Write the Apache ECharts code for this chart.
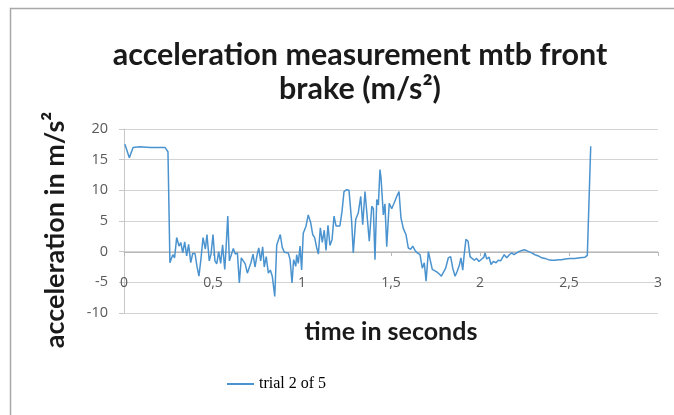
<!DOCTYPE html>
<html>
<head>
<meta charset="utf-8">
<script src="https://cdn.jsdelivr.net/npm/echarts@6/dist/echarts.min.js"></script>
<style>
  html, body { margin: 0; padding: 0; background: #fff; }
  #chart { width: 674px; height: 415px; }
</style>
</head>
<body>
<div id="chart"></div>
<script>
// time in seconds
var time = [
  0.005, 0.014, 0.030, 0.051, 0.090, 0.146, 0.202, 0.230, 0.247, 0.258,
  0.274, 0.284, 0.296, 0.309, 0.319, 0.330, 0.341, 0.352, 0.363, 0.375,
  0.386, 0.399, 0.410, 0.421, 0.433, 0.444, 0.457, 0.466, 0.479, 0.489,
  0.500, 0.511, 0.521, 0.532, 0.543, 0.554, 0.566, 0.573, 0.583, 0.592,
  0.603, 0.614, 0.625, 0.637, 0.648, 0.659, 0.670, 0.681, 0.693, 0.702,
  0.713, 0.725, 0.736, 0.746, 0.757, 0.768, 0.779, 0.788, 0.799, 0.811,
  0.822, 0.833, 0.847, 0.858, 0.869, 0.878, 0.889, 0.901, 0.912, 0.923,
  0.933, 0.944, 0.953, 0.965, 0.970, 0.979, 0.989, 0.998, 1.007, 1.022,
  1.035, 1.049, 1.060, 1.071, 1.083, 1.092, 1.103, 1.114, 1.125, 1.135,
  1.146, 1.157, 1.169, 1.180, 1.191, 1.202, 1.213, 1.225, 1.236, 1.251,
  1.264, 1.279, 1.288, 1.302, 1.316, 1.330, 1.341, 1.354, 1.365, 1.378,
  1.392, 1.401, 1.410, 1.420, 1.429, 1.438, 1.444, 1.457, 1.466, 1.476,
  1.490, 1.504, 1.517, 1.532, 1.545, 1.556, 1.569, 1.584, 1.597, 1.611,
  1.622, 1.635, 1.648, 1.663, 1.676, 1.687, 1.697, 1.710, 1.719, 1.732,
  1.743, 1.757, 1.770, 1.783, 1.794, 1.807, 1.822, 1.835, 1.847, 1.860,
  1.872, 1.884, 1.893, 1.903, 1.910, 1.921, 1.933, 1.944, 1.955, 1.968,
  1.981, 1.994, 2.010, 2.022, 2.028, 2.038, 2.051, 2.062, 2.075, 2.090,
  2.103, 2.116, 2.127, 2.136, 2.150, 2.165, 2.178, 2.191, 2.206, 2.221,
  2.234, 2.253, 2.271, 2.290, 2.309, 2.328, 2.347, 2.365, 2.384, 2.403,
  2.421, 2.440, 2.459, 2.478, 2.506, 2.534, 2.562, 2.590, 2.603, 2.614,
  2.622
];

// acceleration in m/s²
var accel = [
  17.5, 17.4, 15.3, 17.0, 17.1, 17.0, 17.0, 17.0, 16.3, -1.8,
  -0.5, -1.0, 2.3, 0.9, 1.5, -0.2, 1.6, -0.7, 1.2, -1.8,
  -0.3, -0.3, -2.4, -4.0, -1.0, 2.3, 0.4, 2.8, -1.5, -0.4,
  2.8, -1.5, -2.0, 0.0, -1.9, 1.1, -2.9, 0.4, 5.8, -1.5,
  -1.2, 0.5, -0.4, -0.2, -5.1, -1.0, -1.3, -2.0, -3.5, -3.2,
  -1.8, -0.4, -2.5, -0.8, 0.6, -1.5, 0.8, -2.5, -0.8, -3.5,
  -3.0, -4.0, -7.3, 1.1, 1.3, 2.8, 0.7, -0.1, -0.4, -0.2,
  -1.3, -5.1, -1.3, -2.4, -0.5, -1.9, 0.9, -3.0, 3.0, 4.1,
  6.0, 4.7, 2.8, 2.3, 0.6, -0.4, 3.9, 1.5, 3.5, 0.2,
  4.3, 1.0, 2.0, 5.8, 4.2, 4.2, 4.2, 6.6, 9.8, 10.1,
  10.0, 4.9, -0.2, 5.3, 6.3, 9.0, 4.4, 9.8, 9.6, 1.7,
  7.4, 7.0, -1.3, 8.5, 7.6, 13.4, 12.0, 6.0, 7.8, 0.8,
  7.9, 7.0, 7.9, 9.0, 9.8, 5.5, 3.8, 2.8, 0.6, 0.4,
  0.9, 0.2, -0.2, -0.5, -2.7, -1.8, -4.8, 0.0, -0.3, -2.9,
  -2.6, -3.3, -3.6, -4.0, -4.3, -2.7, -1.0, -0.8, -2.7, -4.0,
  -3.2, -2.2, -1.0, -3.0, -0.8, 2.0, 1.7, -0.8, -1.1, -1.4,
  -1.1, -1.6, -1.2, -0.9, -0.2, -1.2, -0.9, -2.1, -1.6, -1.8,
  -1.4, -1.5, -1.2, -0.5, -1.0, -0.5, -0.2, -0.5, -0.2, 0.05,
  0.2, 0.3, 0.05, -0.2, -0.5, -0.7, -1.0, -1.1, -1.3, -1.4,
  -1.4, -1.3, -1.3, -1.2, -1.1, -1.1, -1.0, -0.9, -0.6, -0.9,
  17.2
];

var seriesName = 'trial 2 of 5';

var points = time.map(function (t, i) { return [t, accel[i]]; });

var chart = echarts.init(document.getElementById('chart'));
var option = {
  animation: false,
  backgroundColor: '#fff',
  title: {
    text: 'acceleration measurement mtb front\nbrake (m/s²)',
    left: 355,
    textAlign: 'center',
    top: 33,
    textStyle: {
      fontFamily: 'Lato',
      fontWeight: 'bold',
      fontSize: 30.5,
      lineHeight: 34,
      color: '#1a1a1a'
    }
  },
  grid: {
    left: 124,
    right: 16,
    top: 129,
    bottom: 102,
    containLabel: false
  },
  legend: {
    data: [seriesName],
    left: 222,
    top: 371,
    icon: 'rect',
    itemWidth: 27,
    itemHeight: 2,
    itemGap: 10,
    textStyle: {
      fontFamily: 'Liberation Serif',
      fontSize: 16,
      color: '#000'
    }
  },
  xAxis: {
    type: 'value',
    min: 0,
    max: 3,
    interval: 0.5,
    // the axis crosses the value axis at 0 (61 px above the plot bottom)
    offset: -61,
    name: 'time in seconds',
    nameLocation: 'middle',
    nameGap: 67,
    nameTextStyle: {
      fontFamily: 'Lato',
      fontWeight: 'bold',
      fontSize: 25,
      color: '#1a1a1a'
    },
    axisLine: { onZero: false, lineStyle: { color: '#b8b8b8', width: 1 } },
    axisTick: { show: true, length: 4, lineStyle: { color: '#b8b8b8' } },
    axisLabel: {
      margin: 24,
      fontFamily: 'Open Sans',
      fontSize: 14,
      color: '#595959',
      formatter: function (v) { return String(v).replace('.', ','); }
    },
    splitLine: { show: false }
  },
  yAxis: {
    type: 'value',
    min: -10,
    max: 20,
    interval: 5,
    name: 'acceleration in m/s²',
    nameLocation: 'middle',
    nameGap: 55,
    nameTextStyle: {
      fontFamily: 'Lato',
      fontWeight: 'bold',
      fontSize: 27,
      color: '#1a1a1a',
      padding: [0, 18, 0, 0]
    },
    axisLine: { show: true, onZero: false, lineStyle: { color: '#c8c8c8', width: 1 } },
    axisTick: { show: true, inside: false, length: 5, lineStyle: { color: '#c8c8c8' } },
    axisLabel: {
      margin: 16,
      fontFamily: 'Open Sans',
      fontSize: 14.5,
      color: '#595959'
    },
    splitLine: { show: true, lineStyle: { color: '#d4d4d4', width: 1 } }
  },
  graphic: [{
    type: 'rect',
    shape: { x: 10.5, y: 8.5, width: 700, height: 450 },
    style: { fill: 'none', stroke: '#a8a8a8', lineWidth: 1.5 },
    silent: true,
    z: -1
  }],
  series: [{
    name: seriesName,
    type: 'line',
    data: points,
    showSymbol: false,
    symbol: 'none',
    lineStyle: { color: '#4a93cf', width: 1.5 },
    itemStyle: { color: '#4a93cf' }
  }]
};
chart.setOption(option);
</script>
</body>
</html>
